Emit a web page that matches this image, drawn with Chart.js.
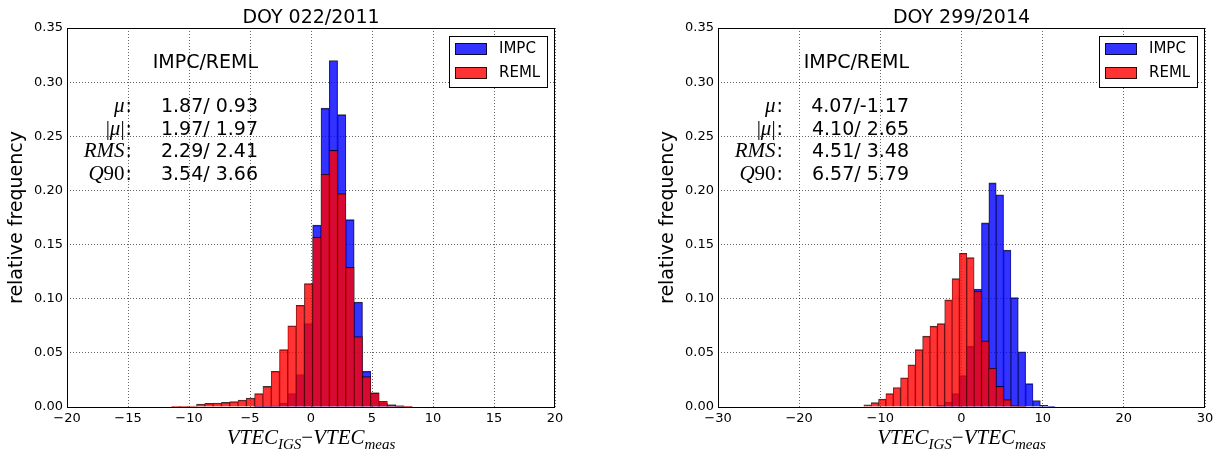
<!DOCTYPE html>
<html><head><meta charset="utf-8">
<script src="https://cdn.jsdelivr.net/npm/chart.js@4.4.1/dist/chart.umd.min.js"></script>
<style>
html,body{margin:0;padding:0;background:#fff;}
#wrap{position:relative;width:1220px;height:452px;overflow:hidden;}
canvas{position:absolute;top:0;}
</style></head><body>
<div id="wrap"><canvas id="c1" width="610" height="452" style="left:0"></canvas><canvas id="c2" width="610" height="452" style="left:610px"></canvas></div>
<script>
// ---------- data ----------
const seriesNames = ['IMPC', 'REML'];
const titles = ['DOY 022/2011', 'DOY 299/2014'];
const statHeader = 'IMPC/REML';
const statLabels = ['μ', '|μ|', 'RMS', 'Q90'];
const stats2011 = ['1.87/ 0.93', '1.97/ 1.97', '2.29/ 2.41', '3.54/ 3.66'];
const stats2014 = ['4.07/-1.17', '4.10/ 2.65', '4.51/ 3.48', '6.57/ 5.79'];
const yLabel = 'relative frequency';

// bin centres (VTEC_IGS - VTEC_meas) and relative frequencies
const bins2011 = [-11.08, -10.40, -9.72, -9.04, -8.36, -7.68, -7.00, -6.32, -5.64, -4.96,
  -4.28, -3.60, -2.92, -2.24, -1.56, -0.88, -0.20, 0.48, 1.16, 1.84,
  2.52, 3.20, 3.88, 4.56, 5.24, 5.92, 6.60, 7.28, 7.96];
const impc2011 = [0, 0, 0, 0, 0, 0, 0, 0, 0, 0,
  0.0002, 0.0004, 0.001, 0.0037, 0.0123, 0.030, 0.077, 0.168, 0.276, 0.320,
  0.270, 0.173, 0.097, 0.033, 0.013, 0.0037, 0.002, 0.001, 0.0005];
const reml2011 = [0.0002, 0.0004, 0.0009, 0.0028, 0.0034, 0.0037, 0.0043, 0.005, 0.0065, 0.0083,
  0.0123, 0.019, 0.033, 0.053, 0.075, 0.094, 0.114, 0.157, 0.215, 0.237,
  0.197, 0.129, 0.065, 0.028, 0.013, 0.0052, 0.002, 0.001, 0.0004];

const bins2014 = [-11.580, -10.674, -9.768, -8.862, -7.956, -7.050, -6.144, -5.238, -4.332, -3.426,
  -2.520, -1.614, -0.708, 0.198, 1.104, 2.010, 2.916, 3.822, 4.728, 5.634,
  6.540, 7.446, 8.352, 9.258, 10.164, 11.070];
const impc2014 = [0, 0, 0, 0, 0, 0, 0, 0, 0, 0.0005,
  0.0015, 0.0046, 0.0123, 0.029, 0.056, 0.109, 0.170, 0.207, 0.196, 0.145,
  0.101, 0.051, 0.0216, 0.006, 0.0015, 0.0003];
const reml2014 = [0.002, 0.004, 0.0074, 0.0123, 0.018, 0.027, 0.039, 0.053, 0.0655, 0.0747,
  0.077, 0.099, 0.1185, 0.142, 0.138, 0.107, 0.061, 0.036, 0.019, 0.0068,
  0.0012, 0.0003, 0, 0, 0, 0];

const xTicks2011 = [-20, -15, -10, -5, 0, 5, 10, 15, 20];
const xTicks2014 = [-30, -20, -10, 0, 10, 20, 30];
const yTicks = [0, 0.05, 0.10, 0.15, 0.20, 0.25, 0.30, 0.35];

// ---------- styling ----------
const FONT = "'DejaVu Sans', 'Bitstream Vera Sans', sans-serif";
const MATH = "'Liberation Serif', 'DejaVu Serif', serif";
const FILLS = ['rgba(0,0,255,0.8)', 'rgba(255,0,0,0.8)'];
const EDGE = 'rgba(0,0,0,0.8)';

function drawMath(ctx, parts, x, align) {
  // parts: [text, size, italic, dy]
  const widths = parts.map(p => { ctx.font = (p[2] ? 'italic ' : '') + p[1] + 'px ' + MATH; return ctx.measureText(p[0]).width; });
  const total = widths.reduce((s, w) => s + w, 0);
  let cx = align === 'right' ? x - total : (align === 'center' ? x - total / 2 : x);
  return function (y) {
    parts.forEach((p, i) => {
      ctx.font = (p[2] ? 'italic ' : '') + p[1] + 'px ' + MATH;
      ctx.textAlign = 'left';
      ctx.fillText(p[0], cx, y + p[3]);
      cx += widths[i];
    });
  };
}

function labelParts(str) {
  const parts = [];
  for (const ch of str) {
    const it = /[A-Za-zμ]/.test(ch);
    const last = parts[parts.length - 1];
    if (last && last[2] === it) last[0] += ch; else parts.push([ch, 21, it, 0]);
  }
  return parts;
}

function decor(cfg) {
  return {
    id: 'decor',
    afterDraw(chart) {
      const ctx = chart.ctx, a = chart.chartArea;
      ctx.save();
      ctx.fillStyle = '#000';
      // frame
      ctx.lineWidth = 1; ctx.strokeStyle = '#000';
      ctx.strokeRect(a.left + 0.5, a.top + 0.5, a.right - a.left - 1, a.bottom - a.top);
      // title
      ctx.font = '19px ' + FONT; ctx.textAlign = 'center'; ctx.textBaseline = 'alphabetic';
      ctx.fillText(cfg.title, (a.left + a.right) / 2, 23);
      // y label
      ctx.save();
      ctx.translate(a.left - 45, (a.top + a.bottom) / 2);
      ctx.rotate(-Math.PI / 2);
      ctx.font = '19px ' + FONT; ctx.textAlign = 'center';
      ctx.fillText(yLabel, 0, 0);
      ctx.restore();
      // x label
      ctx.textBaseline = 'alphabetic';
      drawMath(ctx, [['VTEC', 21, true, 0], ['IGS', 15, true, 5], ['\u2212', 21, false, 0], ['VTEC', 21, true, 0], ['meas', 15, true, 5]],
        (a.left + a.right) / 2, 'center')(444);
      // stats block
      const rx = a.left + 191;
      ctx.font = '19px ' + FONT; ctx.textAlign = 'right';
      ctx.fillText(statHeader, rx, 68);
      cfg.stats.forEach((s, i) => {
        const y = 112 + i * 22.5;
        ctx.font = '19px ' + FONT; ctx.textAlign = 'right';
        ctx.fillText(s, rx, y);
        ctx.fillText(':', a.left + 65, y);
        const cw = ctx.measureText(':').width;
        drawMath(ctx, labelParts(statLabels[i]), a.left + 64 - cw, 'right')(y);
      });
      // legend
      const bx = Math.round(a.right - 106), by = Math.round(a.top + 8);
      ctx.fillStyle = '#fff'; ctx.fillRect(bx, by, 98, 51);
      ctx.strokeStyle = '#000'; ctx.strokeRect(bx + 0.5, by + 0.5, 98, 51);
      seriesNames.forEach((n, i) => {
        const py = by + 7 + i * 24;
        ctx.fillStyle = FILLS[i]; ctx.fillRect(bx + 6, py, 32, 12);
        ctx.strokeStyle = EDGE; ctx.strokeRect(bx + 6.5, py + 0.5, 31, 11);
        ctx.fillStyle = '#000'; ctx.font = '15px ' + FONT; ctx.textAlign = 'left'; ctx.textBaseline = 'middle';
        ctx.fillText(n, bx + 50, py + 6.5);
      });
      ctx.restore();
    }
  };
}

function buildChart(id, cfg) {
  const mk = (vals, i) => ({
    label: seriesNames[i],
    data: cfg.bins.map((c, k) => ({ x: c, y: vals[k] })),
    backgroundColor: FILLS[i], borderColor: EDGE,
    borderWidth: { top: 1, left: 0.5, right: 0.5, bottom: 0 }, borderSkipped: false,
    order: 2 - i
  });
  const grid = { color: 'rgba(0,0,0,0.6)', lineWidth: 1, drawTicks: false, offset: false, borderDash: [1, 2] };
  new Chart(document.getElementById(id), {
    type: 'bar',
    data: { datasets: [mk(cfg.impc, 0), mk(cfg.reml, 1)] },
    options: {
      responsive: false, animation: false,
      layout: { padding: { left: cfg.padLeft, right: cfg.padRight, top: 28, bottom: 0 } },
      datasets: { bar: { grouped: false, barPercentage: 1, categoryPercentage: 1 } },
      plugins: { legend: { display: false }, tooltip: { enabled: false }, title: { display: false } },
      scales: {
        x: {
          type: 'linear', min: cfg.xTicks[0], max: cfg.xTicks[cfg.xTicks.length - 1], offset: false, z: 1,
          afterBuildTicks: s => { s.ticks = cfg.xTicks.map(v => ({ value: v })); },
          afterFit: s => { s.height = 45; },
          grid: grid, border: { display: false, dash: [1, 2] },
          ticks: { padding: 4, color: '#000', font: { family: FONT, size: 13 }, maxRotation: 0, autoSkip: false,
            callback: v => String(v).replace('-', '\u2212') }
        },
        y: {
          type: 'linear', min: yTicks[0], max: yTicks[yTicks.length - 1], z: 1,
          afterBuildTicks: s => { s.ticks = yTicks.map(v => ({ value: v })); },
          afterFit: s => { s.width = 67; },
          grid: grid, border: { display: false, dash: [1, 2] },
          ticks: { padding: 4, color: '#000', font: { family: FONT, size: 13 }, autoSkip: false,
            callback: v => Number(v).toFixed(2) }
        }
      }
    },
    plugins: [decor(cfg)]
  });
}

buildChart('c1', { bins: bins2011, impc: impc2011, reml: reml2011, xTicks: xTicks2011,
  title: titles[0], stats: stats2011, padLeft: 0, padRight: 55 });
buildChart('c2', { bins: bins2014, impc: impc2014, reml: reml2014, xTicks: xTicks2014,
  title: titles[1], stats: stats2014, padLeft: 41, padRight: 15 });
</script>
</body></html>
